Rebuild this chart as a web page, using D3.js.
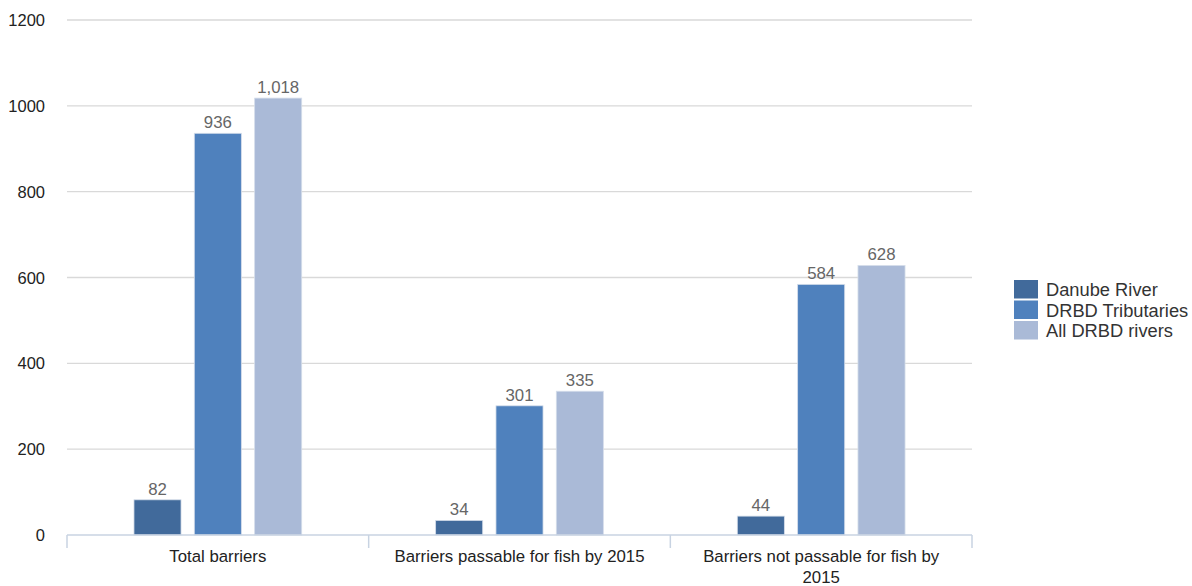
<!DOCTYPE html>
<html><head><meta charset="utf-8">
<script src="https://cdn.jsdelivr.net/npm/d3@7"></script>
<style>body{margin:0;background:#fff}svg{display:block}text{font-family:"Liberation Sans",Arial,sans-serif}</style>
</head><body>
<svg id="c" width="1192" height="586"></svg>
<script>
const categories = [["Total barriers"], ["Barriers passable for fish by 2015"], ["Barriers not passable for fish by", "2015"]];
const seriesNames = ["Danube River", "DRBD Tributaries", "All DRBD rivers"];
const danube = [82, 34, 44];
const tributaries = [936, 301, 584];
const allRivers = [1018, 335, 628];
const valueLabels = [["82","936","1,018"],["34","301","335"],["44","584","628"]];
const yTicks = [0, 200, 400, 600, 800, 1000, 1200];
const colors = ["#416a9b", "#4f81bd", "#aabad7"];

(function(){
const series = [danube, tributaries, allRivers];
const svg = d3.select("#c");
const L = 67, R = 972, T = 20, B = 535;
const x = d3.scaleBand().domain(d3.range(categories.length)).range([L, R]).padding(0);
const xi = d3.scaleBand().domain(d3.range(series.length)).range([0, x.bandwidth()]).paddingInner(0.22).paddingOuter(1.11);
const y = d3.scaleLinear().domain([0, 1200]).range([B, T]);

svg.append("g").selectAll("line").data(yTicks.filter(d => d > 0)).join("line")
  .attr("x1", L).attr("x2", R).attr("y1", d => y(d)).attr("y2", d => y(d))
  .attr("stroke", "#d9d9d9").attr("stroke-width", 1.3);
svg.append("g").selectAll("text").data(yTicks).join("text")
  .attr("x", 45).attr("y", d => y(d) + 6).attr("text-anchor", "end")
  .attr("font-size", 16.5).attr("fill", "#222").text(d => d);

categories.forEach((c, ci) => {
  const g = svg.append("g").attr("transform", `translate(${x(ci)},0)`);
  series.forEach((s, si) => {
    g.append("rect").attr("x", xi(si)).attr("width", xi.bandwidth())
      .attr("y", y(s[ci])).attr("height", y(0) - y(s[ci]))
      .attr("fill", colors[si]).attr("stroke", "#d5deea").attr("stroke-width", 0.8);
    g.append("text").attr("x", xi(si) + xi.bandwidth() / 2).attr("y", y(s[ci]) - 5)
      .attr("text-anchor", "middle").attr("font-size", 16.8).attr("fill", "#666")
      .text(valueLabels[ci][si]);
  });
});

svg.append("line").attr("x1", L).attr("x2", R).attr("y1", B).attr("y2", B)
  .attr("stroke", "#c8d3e2").attr("stroke-width", 1.5);
svg.append("g").selectAll("line").data(d3.range(categories.length + 1)).join("line")
  .attr("x1", d => L + d * x.step()).attr("x2", d => L + d * x.step())
  .attr("y1", B).attr("y2", B + 13).attr("stroke", "#c8d3e2").attr("stroke-width", 1.5);
categories.forEach((c, ci) => {
  const t = svg.append("text").attr("text-anchor", "middle").attr("font-size", 16.8).attr("fill", "#222");
  c.forEach((line, li) => t.append("tspan").attr("x", x(ci) + x.bandwidth() / 2).attr("y", 562 + li * 20.5).text(line));
});

const lg = svg.append("g").attr("transform", "translate(1014,280)");
seriesNames.forEach((n, i) => {
  lg.append("rect").attr("x", 0).attr("y", i * 20.5).attr("width", 24).attr("height", 18.5).attr("fill", colors[i]);
  lg.append("text").attr("x", 32).attr("y", i * 20.5 + 16).attr("font-size", 18.3).attr("fill", "#333").text(n);
});
})();
</script>
</body></html>
